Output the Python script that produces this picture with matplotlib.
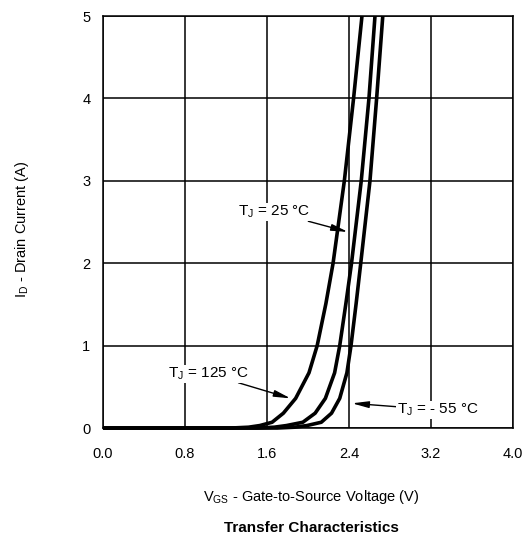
import numpy as np
import matplotlib
matplotlib.use("Agg")
import matplotlib.pyplot as plt

plt.rcParams['font.family'] = ['Liberation Sans', 'DejaVu Sans']
plt.rcParams['mathtext.fontset'] = 'custom'
plt.rcParams['mathtext.rm'] = 'Liberation Sans'

# drain current values (A)
current = [0, 0, 0.01, 0.03, 0.07, 0.18, 0.36, 0.67, 1, 1.51, 2, 3, 4, 5]

# gate voltage (V) for each temperature at those currents
vgs_125 = [0, 1.25, 1.42, 1.53, 1.65, 1.76, 1.88, 2.01, 2.09, 2.175, 2.245, 2.355, 2.445, 2.527]
vgs_25 = [0, 1.50, 1.67, 1.79, 1.95, 2.07, 2.17, 2.26, 2.31, 2.37, 2.425, 2.52, 2.595, 2.654]
vgs_m55 = [0, 1.70, 1.87, 1.99, 2.13, 2.23, 2.31, 2.38, 2.42, 2.47, 2.515, 2.605, 2.67, 2.73]

x_ticks = [0.0, 0.8, 1.6, 2.4, 3.2, 4.0]
y_ticks = [0, 1, 2, 3, 4, 5]

fig = plt.figure(figsize=(5.28, 5.47), dpi=100)
ax = fig.add_axes([0.195, 0.2175, 0.7765, 0.7532])

for v in (vgs_125, vgs_25, vgs_m55):
    ax.plot(v, current, color='black', lw=2.6, clip_on=False,
            solid_capstyle='butt', solid_joinstyle='round', zorder=3)

ax.set_xlim(0, 4.0)
ax.set_ylim(0, 5)
ax.set_xticks(x_ticks)
ax.set_xticklabels([f"{t:.1f}" for t in x_ticks])
ax.set_yticks(y_ticks)
ax.grid(True, color='black', lw=1.1)
ax.tick_params(length=0, labelsize=10.5)
ax.tick_params(axis='x', pad=14)
ax.tick_params(axis='y', pad=9)
for s in ax.spines.values():
    s.set_linewidth(1.1)

fig.text(0.042, 0.58, r'I$_\mathregular{D}$ - Drain Current (A)', rotation=90,
         ha='center', va='center', fontsize=10.5)
fig.text(0.59, 0.091, r'V$_\mathregular{GS}$ - Gate-to-Source Voltage (V)',
         ha='center', va='center', fontsize=10.5)
fig.text(0.59, 0.035, 'Transfer Characteristics', ha='center', va='center',
         fontsize=11, fontweight='bold')

arrow = dict(arrowstyle='-|>,head_length=0.9,head_width=0.18', color='black',
             lw=1.0, shrinkA=0, shrinkB=0)
ax.annotate(r'T$_\mathregular{J}$ = 25 °C', xy=(2.39, 2.38), xytext=(1.32, 2.62),
            fontsize=11, va='center', ha='left', arrowprops=arrow,
            bbox=dict(fc='white', ec='none', pad=0.5))
ax.annotate(r'T$_\mathregular{J}$ = 125 °C', xy=(1.83, 0.36), xytext=(0.63, 0.66),
            fontsize=11, va='center', ha='left', arrowprops=arrow,
            bbox=dict(fc='white', ec='none', pad=0.5))
ax.annotate(r'T$_\mathregular{J}$ = - 55 °C', xy=(2.43, 0.30), xytext=(2.87, 0.22),
            fontsize=11, va='center', ha='left', arrowprops=arrow,
            bbox=dict(fc='white', ec='none', pad=0.5))

fig.savefig('out.png', dpi=100)
